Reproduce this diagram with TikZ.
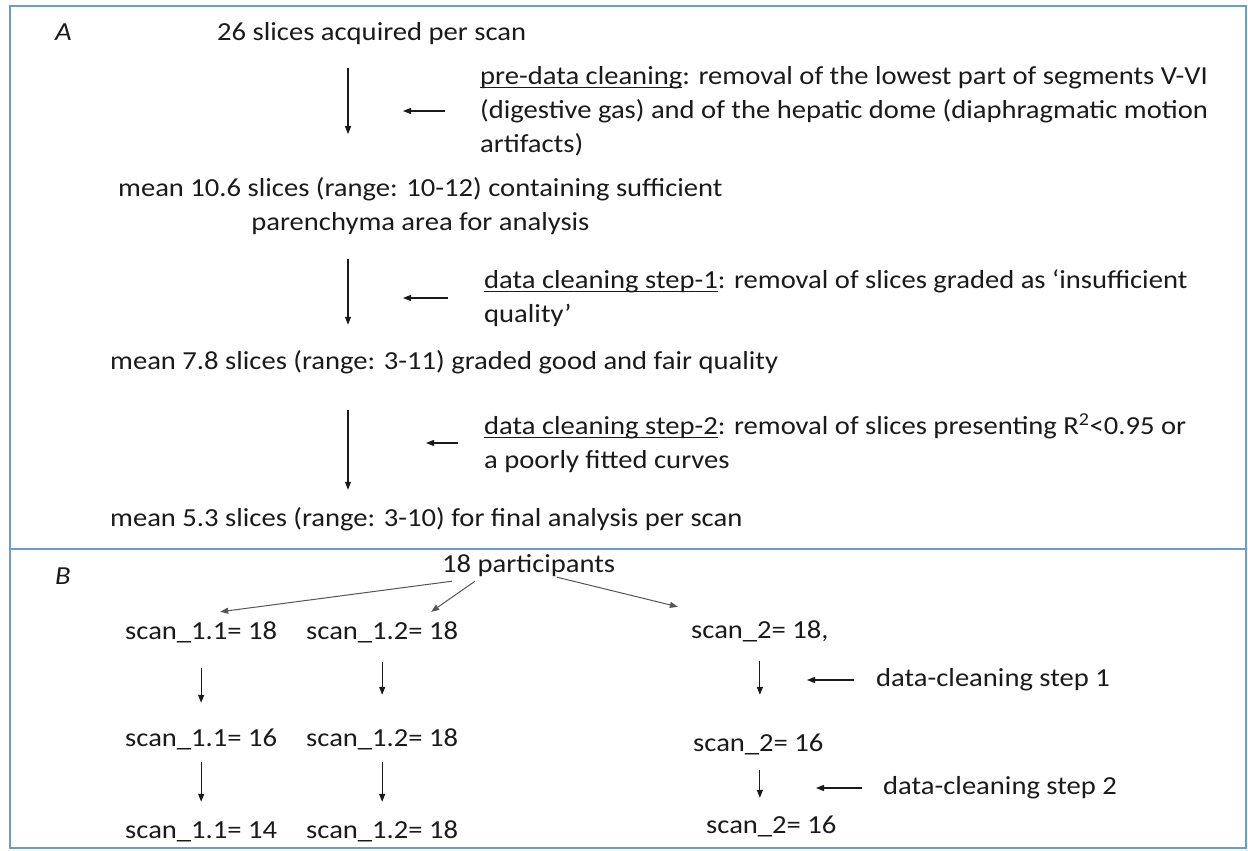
\documentclass[tikz,border=0pt]{standalone}
\usepackage{fontspec}
\setmainfont{Carlito}[FakeStretch=1.1]
\usepackage{tikz}
\usetikzlibrary{arrows.meta}
\definecolor{ink}{HTML}{1A1A1A}
\definecolor{frameblue}{HTML}{6A9BD1}
\definecolor{thinline}{HTML}{555555}
\newcommand{\fs}{\fontsize{26}{34}\selectfont}
\newcommand{\undl}[1]{\leavevmode\setbox0=\hbox{#1}\rlap{\rule[-4pt]{\wd0}{1.2pt}}\box0}

\begin{document}
\begin{tikzpicture}[x=1pt,y=-1pt,>={Triangle[length=8pt,width=6pt]},
  txt/.style={inner sep=0pt,font=\fs,text=ink,text height=19.5pt,text depth=6.5pt,anchor=west},
  blk/.style={inner sep=0pt,font=\fs,text=ink,align=left,anchor=west},
  dn/.style={->,line width=1.2pt,draw=ink},
  br/.style={->,line width=1pt,draw=thinline},
  frame/.style={draw=frameblue,line width=2.5pt}]
  \useasboundingbox (0,0) rectangle (1248,851);
  \draw[frame] (10,6) rectangle (1246,848);
  \draw[frame] (10,549) -- (1246,549);
  \coordinate (ax) at (348,0);
  % panel A
  \node[txt,font=\fs\itshape] (labA) at (55,34) {A};
  \node[txt] (n26) at (217,34) {26 slices acquired per scan};
  \node[blk] (pre) at (480,111) {\undl{pre-data cleaning}: removal of the lowest part of segments V-VI\\(digestive gas) and of the hepatic dome (diaphragmatic motion\\artifacts)};
  \node[blk,align=center] (m106) at (118,206) {mean 10.6 slices (range: 10-12) containing sufficient\\parenchyma area for analysis};
  \node[blk] (cl1) at (484,298) {\undl{data cleaning step-1}: removal of slices graded as ‘insufficient\\quality’};
  \node[txt] (m78) at (110,363) {mean 7.8 slices (range: 3-11) graded good and fair quality};
  \node[blk] (cl2) at (484,443) {\undl{data cleaning step-2}: removal of slices presenting R\textsuperscript{2}<0.95 or\\a poorly fitted curves};
  \node[txt] (m53) at (110,520) {mean 5.3 slices (range: 3-10) for final analysis per scan};
  \draw[dn,shorten <=21pt,shorten >=43pt] (n26.south -| ax) -- (m106.north -| ax);
  \draw[dn,shorten <=24pt,shorten >=25pt] (m106.south -| ax) -- (m78.north -| ax);
  \draw[dn,shorten <=34pt,shorten >=17pt] (m78.south -| ax) -- (m53.north -| ax);
  \draw[dn] ([xshift=-35pt]pre.west) -- ([xshift=-77pt]pre.west);
  \draw[dn] ([xshift=-36pt]cl1.west) -- ([xshift=-81pt]cl1.west);
  \draw[dn] ([xshift=-26pt]cl2.west) -- ([xshift=-58pt]cl2.west);
  % panel B
  \node[txt,font=\fs\itshape] (labB) at (55,578) {B};
  \node[txt] (n18) at (442,566) {18 participants};
  \node[txt] (s11a) at (125,633) {scan\_1.1= 18};
  \node[txt] (s12a) at (306,633) {scan\_1.2= 18};
  \node[txt] (s2a) at (691,632) {scan\_2= 18,};
  \node[txt] (s11b) at (125,740) {scan\_1.1= 16};
  \node[txt] (s12b) at (306,740) {scan\_1.2= 18};
  \node[txt] (s2b) at (693,745) {scan\_2= 16};
  \node[txt] (s11c) at (125,832) {scan\_1.1= 14};
  \node[txt] (s12c) at (306,832) {scan\_1.2= 18};
  \node[txt] (s2c) at (706,827) {scan\_2= 16};
  \node[txt] (st1) at (876,680) {data-cleaning step 1};
  \node[txt] (st2) at (883,788) {data-cleaning step 2};
  \draw[br] ([shift={(10,2)}]n18.south west) -- ([shift={(19,-8)}]s11a.north);
  \draw[br] ([shift={(33,2)}]n18.south west) -- ([shift={(49,-8)}]s12a.north);
  \draw[br] ([shift={(115,-2)}]n18.south west) -- ([shift={(-82,-12)}]s2a.north);
  \draw[dn,shorten <=22pt,shorten >=24pt] (s11a.south) -- (s11b.north);
  \draw[dn,shorten <=16pt,shorten >=32pt] (s12a.south) -- (s12b.north);
  \draw[dn,shorten <=16pt,shorten >=37pt] (s2a.south) -- (s2a.south |- s2b.north);
  \draw[dn,shorten <=9pt,shorten >=17pt] (s11b.south) -- (s11c.north);
  \draw[dn,shorten <=9pt,shorten >=17pt] (s12b.south) -- (s12c.north);
  \draw[dn,shorten <=12pt,shorten >=16pt] (s2a.south |- s2b.south) -- (s2a.south |- s2c.north);
  \draw[dn] ([xshift=-22pt]st1.west) -- ([xshift=-69pt]st1.west);
  \draw[dn] ([xshift=-21pt]st2.west) -- ([xshift=-67pt]st2.west);
\end{tikzpicture}
\end{document}
